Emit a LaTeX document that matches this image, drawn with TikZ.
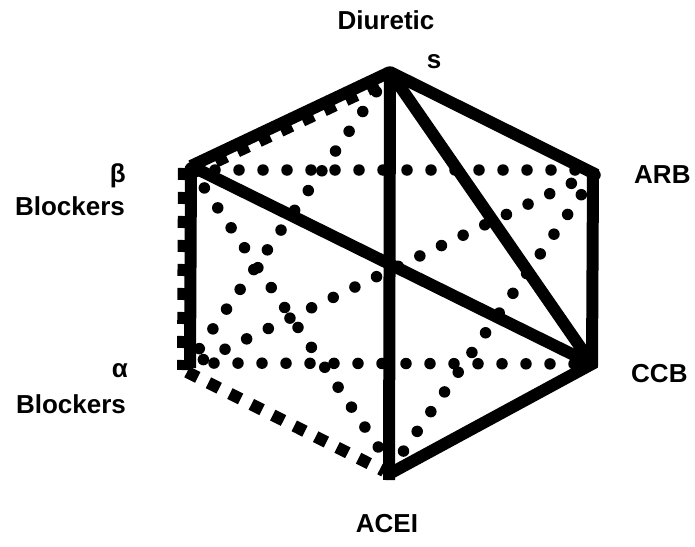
\documentclass[tikz,border=0pt]{standalone}
\usepackage{fontspec}
\setmainfont{Liberation Sans}
\usetikzlibrary{calc}
\begin{document}
\begin{tikzpicture}[x=1pt,y=-1pt,
  solidedge/.style={line width=12pt, line cap=butt, line join=miter},
  dashededge/.style={line width=12pt, line cap=butt, dash pattern=on 12pt off 12pt},
  dottededge/.style={line width=11.5pt, line cap=round, dash pattern=on 0pt off 24pt},
  lab/.style={font=\fontsize{26}{30}\selectfont\bfseries, inner sep=0pt}]
\useasboundingbox[fill=white] (0,0) rectangle (695,546);
% vertices
\coordinate (D) at (390,72);
\coordinate (ARB) at (593,173);
\coordinate (CCB) at (592,364);
\coordinate (ACEI) at (389,474);
\coordinate (AL) at (190,368);
\coordinate (BE) at (191,166);
% dotted combinations
\draw[dottededge] ($(BE)+(0,4)$) -- ($(ARB)+(0,-3)$);
\draw[dottededge] ($(AL)+(0,-5)$) -- (CCB);
\draw[dottededge] (D) -- ($(AL)+(-2,-3)$);
\draw[dottededge] ($(BE)+(0,2)$) -- ($(ACEI)+(-2,-14)$);
\draw[dottededge] (ARB) -- ($(AL)+(0,-2)$);
\draw[dottededge] ($(ARB)+(2,2)$) -- ($(ACEI)+(0,-2)$);
% dashed combinations
\draw[dashededge] ($(BE)+(-7,2)$) -- ($(AL)+(-7,2)$);
\draw[dashededge] ($(BE)+(3,6)$) -- ($(D)+(3,6)$);
\draw[dashededge] ($(AL)+(-3,4)$) -- ($(ACEI)+(-5,-3)$);
% solid combinations
\draw[solidedge] (BE) -- (AL);
\draw[solidedge] (BE) -- (D);
\draw[solidedge] (D) -- (ARB) -- (CCB) -- (ACEI);
\draw[solidedge] ($(D)+(0,-4)$) -- ($(ACEI)+(0,6)$);
\draw[solidedge] (D) -- (CCB);
\draw[solidedge] (BE) -- (CCB);
% labels
\node[lab, anchor=base] (tdiur) at (386,29) {Diuretic};
\node[lab, anchor=base] (tdiurs) at (434,68) {s};
\node[lab, anchor=base east] (tbeta) at (126,182) {β};
\node[lab, anchor=base] (tbetab) at (70,215) {Blockers};
\node[lab, anchor=base east] (talpha) at (128,377) {α};
\node[lab, anchor=base] (talphab) at (71,413) {Blockers};
\node[lab, anchor=base west] (tarb) at (634,183) {ARB};
\node[lab, anchor=base west] (tccb) at (631,382) {CCB};
\node[lab, anchor=base] (tacei) at (387,532) {ACEI};
\end{tikzpicture}
\end{document}
